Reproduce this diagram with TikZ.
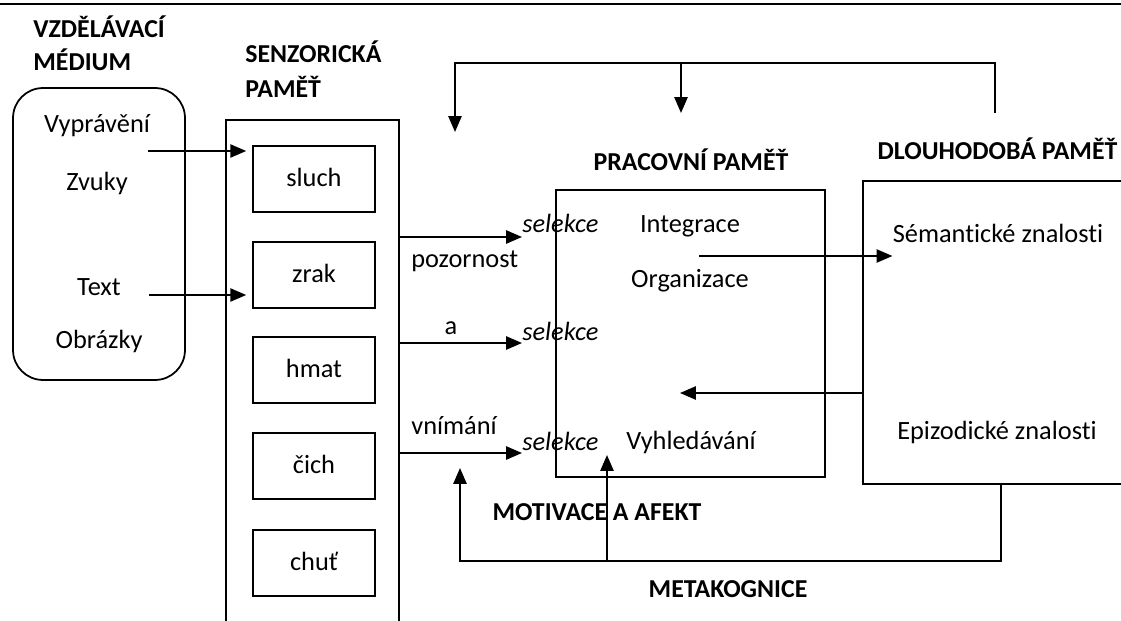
\documentclass[tikz,border=0pt]{standalone}
\usepackage{fontspec}
\setmainfont{Carlito}[Ligatures={NoCommon}]
\usetikzlibrary{arrows.meta}

\begin{document}
\begin{tikzpicture}[x=0.02cm, y=-0.02cm, >={Triangle[length=9pt,width=7.5pt]}]

% --- Styles ---
\tikzset{
    txt/.style={inner sep=0pt, text height=0.9em, text depth=0pt, font=\fontsize{15}{18}\selectfont},
    head/.style={txt, font=\fontsize{14.7}{18}\selectfont\bfseries},
    sel/.style={txt, font=\fontsize{15}{18}\selectfont\itshape, anchor=west},
    box/.style={draw, line width=1pt, inner sep=0pt},
    sensebox/.style={box, txt, minimum width=2.44cm, minimum height=1.32cm},
    line/.style={line width=1pt},
    arrow/.style={->, line width=1pt}
}

\clip (0,0) rectangle (1121,621);

% --- Horni linka ---
\draw[line] (0,4) -- (1121,4);

% --- Vzdelavaci medium ---
\node[head, anchor=west] (medT1) at (33,30) {VZDĚLÁVACÍ};
\node[head, anchor=west] (medT2) at (33,63) {MÉDIUM};
\node[box, rounded corners=0.6cm, minimum width=3.44cm, minimum height=5.84cm] (med) at (99,234) {};

\node[txt] (vypr) at (97,125) {Vyprávění};
\node[txt] (zvuky) at (97,183) {Zvuky};
\node[txt] (text) at (99,288) {Text};
\node[txt] (obr) at (99,341) {Obrázky};

% --- Senzoricka pamet ---
\node[head, anchor=west] (senT1) at (245,55) {SENZORICKÁ};
\node[head, anchor=west] (senT2) at (245,90) {PAMĚŤ};
\node[box, minimum width=3.46cm, minimum height=11.6cm] (sen) at (312.5,410) {};

\node[sensebox] (sluch) at (314,179) {sluch};
\node[sensebox] (zrak) at (314,275) {zrak};
\node[sensebox] (hmat) at (314,370) {hmat};
\node[sensebox] (cich) at (314,466) {čich};
\node[sensebox] (chut) at (314,563) {chuť};

% medium -> smysly
\coordinate (zvS) at (148,151);
\coordinate (txS) at (149,295);
\draw[arrow, shorten >=3.4pt] (zvS) -- (sluch.west |- zvS);
\draw[arrow, shorten >=3.4pt] (txS) -- (zrak.west |- txS);

% --- Selekce ---
\coordinate (s1) at (522,237);
\coordinate (s2) at (522,343);
\coordinate (s3) at (522,453);
\draw[arrow] (sen.east |- s1) -- (s1);
\draw[arrow] (sen.east |- s2) -- (s2);
\draw[arrow] (sen.east |- s3) -- (s3);

\node[txt, anchor=west] (poz) at (411,260) {pozornost};
\node[txt] (a) at (451,327) {a};
\node[txt, anchor=west] (vnim) at (411,427) {vnímání};

\node[sel] (sel1) at (522,225) {selekce};
\node[sel] (sel2) at (522,333) {selekce};
\node[sel] (sel3) at (522,443) {selekce};

% --- Pracovni pamet ---
\node[head] (pracT) at (691,163) {PRACOVNÍ PAMĚŤ};
\node[box, minimum width=5.38cm, minimum height=5.74cm] (prac) at (690.5,333.5) {};
\node[txt] (integ) at (690,225) {Integrace};
\node[txt] (organ) at (690,280) {Organizace};
\node[txt] (vyhl) at (691,442) {Vyhledávání};

% --- Dlouhodoba pamet ---
\node[head] (dlouhT) at (997.5,152) {DLOUHODOBÁ PAMĚŤ};
\node[box, minimum width=8cm, minimum height=6.06cm] (dlouh) at (1063,332.5) {};
\node[txt] (sem) at (998,235) {Sémantické znalosti};
\node[txt] (epi) at (997,432) {Epizodické znalosti};

% integrace -> semanticke, dlouhodoba -> pracovni
\coordinate (intS) at (699,256);
\coordinate (vybE) at (680,393);
\draw[arrow] (intS) -- (sem.west |- intS);
\draw[arrow] (dlouh.west |- vybE) -- (vybE);

% --- Zpetna vazba nahore ---
\coordinate (fbY) at (0,63);
\coordinate (fbR) at (995,113);
\coordinate (fbL) at (455,132);
\coordinate (fbM) at (681,113);
\draw[arrow] (fbR) -- (fbR |- fbY) -| (fbL);
\draw[arrow] (fbM |- fbY) -- (fbM);

% --- Metakognice dole ---
\coordinate (mkY) at (0,561);
\coordinate (mkR) at (1001,0);
\coordinate (mkL) at (460,468);
\coordinate (mkM) at (607,455);
\draw[arrow] (dlouh.south -| mkR) -- (mkR |- mkY) -| (mkL);
\draw[arrow] (mkM |- mkY) -- (mkM);

\node[head] (motiv) at (597,513) {MOTIVACE A AFEKT};
\node[head] (meta) at (728,590) {METAKOGNICE};

\end{tikzpicture}
\end{document}
